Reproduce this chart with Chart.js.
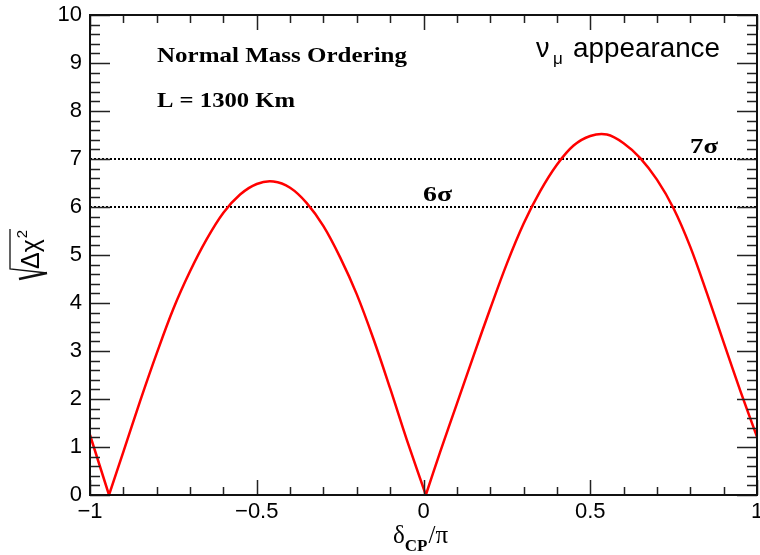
<!DOCTYPE html>
<html>
<head>
<meta charset="utf-8">
<script src="https://cdn.jsdelivr.net/npm/chart.js@4.4.0/dist/chart.umd.min.js"></script>
<style>
  html, body { margin: 0; padding: 0; background: #fff; }
  #wrap { width: 760px; height: 555px; }
</style>
</head>
<body>
<div id="wrap"><canvas id="chart" width="760" height="555"></canvas></div>
<script>
// values
const deltaCP = [-1, -0.943, -0.9, -0.85, -0.8, -0.75, -0.7, -0.65, -0.6, -0.55,
  -0.5, -0.45, -0.4, -0.35, -0.3, -0.25, -0.2, -0.15, -0.1,
  -0.05, 0.007, 0.05, 0.1, 0.15, 0.2, 0.25, 0.3, 0.35, 0.4,
  0.45, 0.5, 0.55, 0.6, 0.65, 0.7, 0.75, 0.8, 0.85,
  0.9, 0.95, 1];
const sqrtChi2 = [1.25, 0, 0.9, 1.95, 2.95, 3.88, 4.66, 5.33, 5.88, 6.26,
  6.48, 6.53, 6.4, 6.08, 5.6, 4.95, 4.18, 3.25, 2.22,
  1.15, 0, 0.9, 1.9, 2.9, 3.88, 4.82, 5.65, 6.33, 6.88,
  7.28, 7.48, 7.51, 7.33, 7.02, 6.57, 5.97, 5.17, 4.2,
  3.18, 2.17, 1.21];
const sigmaLevels = [6, 7];
const xRange = [-1, 1];
const yRange = [0, 10];

const MINUS = '\u2212';
const fmt = (v) => (v < 0 ? MINUS + Math.abs(v) : String(v));

// split the curve at its zeros so the cusps stay sharp
function splitArcs(xs, ys) {
  const parts = [];
  let cur = [];
  xs.forEach((x, i) => {
    cur.push({ x, y: ys[i] });
    if (ys[i] === 0 && cur.length > 1) {
      parts.push(cur);
      cur = [{ x, y: 0 }];
    }
  });
  if (cur.length > 1) parts.push(cur);
  return parts;
}

const curveSets = splitArcs(deltaCP, sqrtChi2).map((pts) => ({
  data: pts,
  borderColor: '#ff0000',
  borderWidth: 2.5,
  pointRadius: 0,
  tension: 0.35,
  showLine: true,
}));

const sigmaSets = sigmaLevels.map((s) => ({
  data: xRange.map((x) => ({ x, y: s })),
  borderColor: '#000',
  borderWidth: 2,
  borderDash: [2, 2],
  pointRadius: 0,
  showLine: true,
}));

// draw text stretched to a given width (the reference font runs wide)
function wideText(ctx, text, x, y, width) {
  const w = ctx.measureText(text).width;
  ctx.save();
  ctx.translate(x, y);
  ctx.scale(width / w, 1);
  ctx.fillText(text, 0, 0);
  ctx.restore();
}

// ROOT style frame, inner ticks on all four sides, and text
const rootFrame = {
  id: 'rootFrame',
  afterDatasetsDraw(chart) {
    const { ctx, chartArea: a, scales } = chart;
    const xs = scales.x, ys = scales.y;
    ctx.save();
    ctx.strokeStyle = '#222';
    ctx.lineWidth = 1.5;
    ctx.beginPath();
    for (let i = 0; i <= 20; i++) {
      const px = Math.round(xs.getPixelForValue(-1 + i * 0.1)) + 0.5;
      const len = i % 5 === 0 ? 15 : 8;
      ctx.moveTo(px, a.bottom); ctx.lineTo(px, a.bottom - len);
      ctx.moveTo(px, a.top); ctx.lineTo(px, a.top + len);
    }
    for (let i = 0; i <= 50; i++) {
      const py = Math.round(ys.getPixelForValue(i * 0.2)) + 0.5;
      const len = i % 5 === 0 ? 20 : 10;
      ctx.moveTo(a.left, py); ctx.lineTo(a.left + len, py);
      ctx.moveTo(a.right, py); ctx.lineTo(a.right - len, py);
    }
    ctx.stroke();
    ctx.lineWidth = 2;
    ctx.strokeStyle = '#111';
    ctx.strokeRect(a.left, a.top, a.right - a.left, a.bottom - a.top);

    ctx.fillStyle = '#000';
    ctx.textBaseline = 'alphabetic';
    ctx.textAlign = 'left';
    ctx.font = 'bold 21px "Liberation Serif"';
    wideText(ctx, 'Normal Mass Ordering', 157, 62, 250);
    wideText(ctx, 'L = 1300 Km', 157, 107, 138);

    ctx.font = 'bold 22px "Liberation Serif"';
    wideText(ctx, '7\u03c3', 690, ys.getPixelForValue(7) - 6, 28);
    wideText(ctx, '6\u03c3', 423, ys.getPixelForValue(6) - 6, 29);

    ctx.font = '27px "Liberation Sans"';
    ctx.fillText('\u03bd', 536, 57);
    ctx.font = '17px "Liberation Sans"';
    ctx.fillText('\u03bc', 553, 64);
    ctx.font = '28px "Liberation Sans"';
    wideText(ctx, 'appearance', 573, 57, 147);

    // x title: delta_CP / pi
    let x0 = 393;
    ctx.font = '25px "Liberation Serif"';
    ctx.fillText('\u03b4', x0, 543);
    x0 += ctx.measureText('\u03b4').width;
    ctx.font = 'bold 17px "Liberation Serif"';
    ctx.fillText('CP', x0, 551);
    x0 += ctx.measureText('CP').width + 1;
    ctx.font = '25px "Liberation Serif"';
    ctx.fillText('/\u03c0', x0, 543);

    // y title: sqrt(Delta chi^2), rotated
    ctx.save();
    ctx.translate(39, 269);
    ctx.rotate(-Math.PI / 2);
    ctx.font = '25px "Liberation Sans"';
    ctx.fillText('\u0394\u03c7', 0, 0);
    const w = ctx.measureText('\u0394\u03c7').width;
    ctx.font = '15px "Liberation Sans"';
    ctx.fillText('2', w + 1, -12);
    ctx.restore();
    ctx.lineWidth = 1.3;
    ctx.beginPath();
    ctx.moveTo(47, 273); ctx.lineTo(10, 269); ctx.lineTo(10, 229);
    ctx.stroke();
    ctx.lineWidth = 2.6;
    ctx.beginPath();
    ctx.moveTo(19, 279); ctx.lineTo(47, 273);
    ctx.stroke();
    ctx.restore();
  },
};

new Chart(document.getElementById('chart'), {
  type: 'scatter',
  data: { datasets: [...curveSets, ...sigmaSets] },
  options: {
    responsive: false,
    animation: false,
    devicePixelRatio: 1,
    layout: { padding: { top: 15, right: 3, left: 0, bottom: 0 } },
    plugins: { legend: { display: false }, tooltip: { enabled: false } },
    scales: {
      x: {
        type: 'linear',
        min: xRange[0],
        max: xRange[1],
        grid: { display: false, drawTicks: false },
        border: { display: false },
        ticks: {
          stepSize: 0.5,
          padding: 4,
          color: '#000',
          font: { family: '"Liberation Sans"', size: 22 },
          callback: fmt,
          maxRotation: 0,
        },
        afterFit(s) { s.height = 60; s.paddingLeft = 0; s.paddingRight = 0; },
      },
      y: {
        type: 'linear',
        min: yRange[0],
        max: yRange[1],
        grid: { display: false, drawTicks: false },
        border: { display: false },
        ticks: {
          stepSize: 1,
          padding: 8,
          color: '#000',
          font: { family: '"Liberation Sans"', size: 22 },
          callback: fmt,
        },
        afterFit(s) { s.width = 90; s.paddingTop = 0; s.paddingBottom = 0; },
      },
    },
  },
  plugins: [rootFrame],
});
</script>
</body>
</html>
